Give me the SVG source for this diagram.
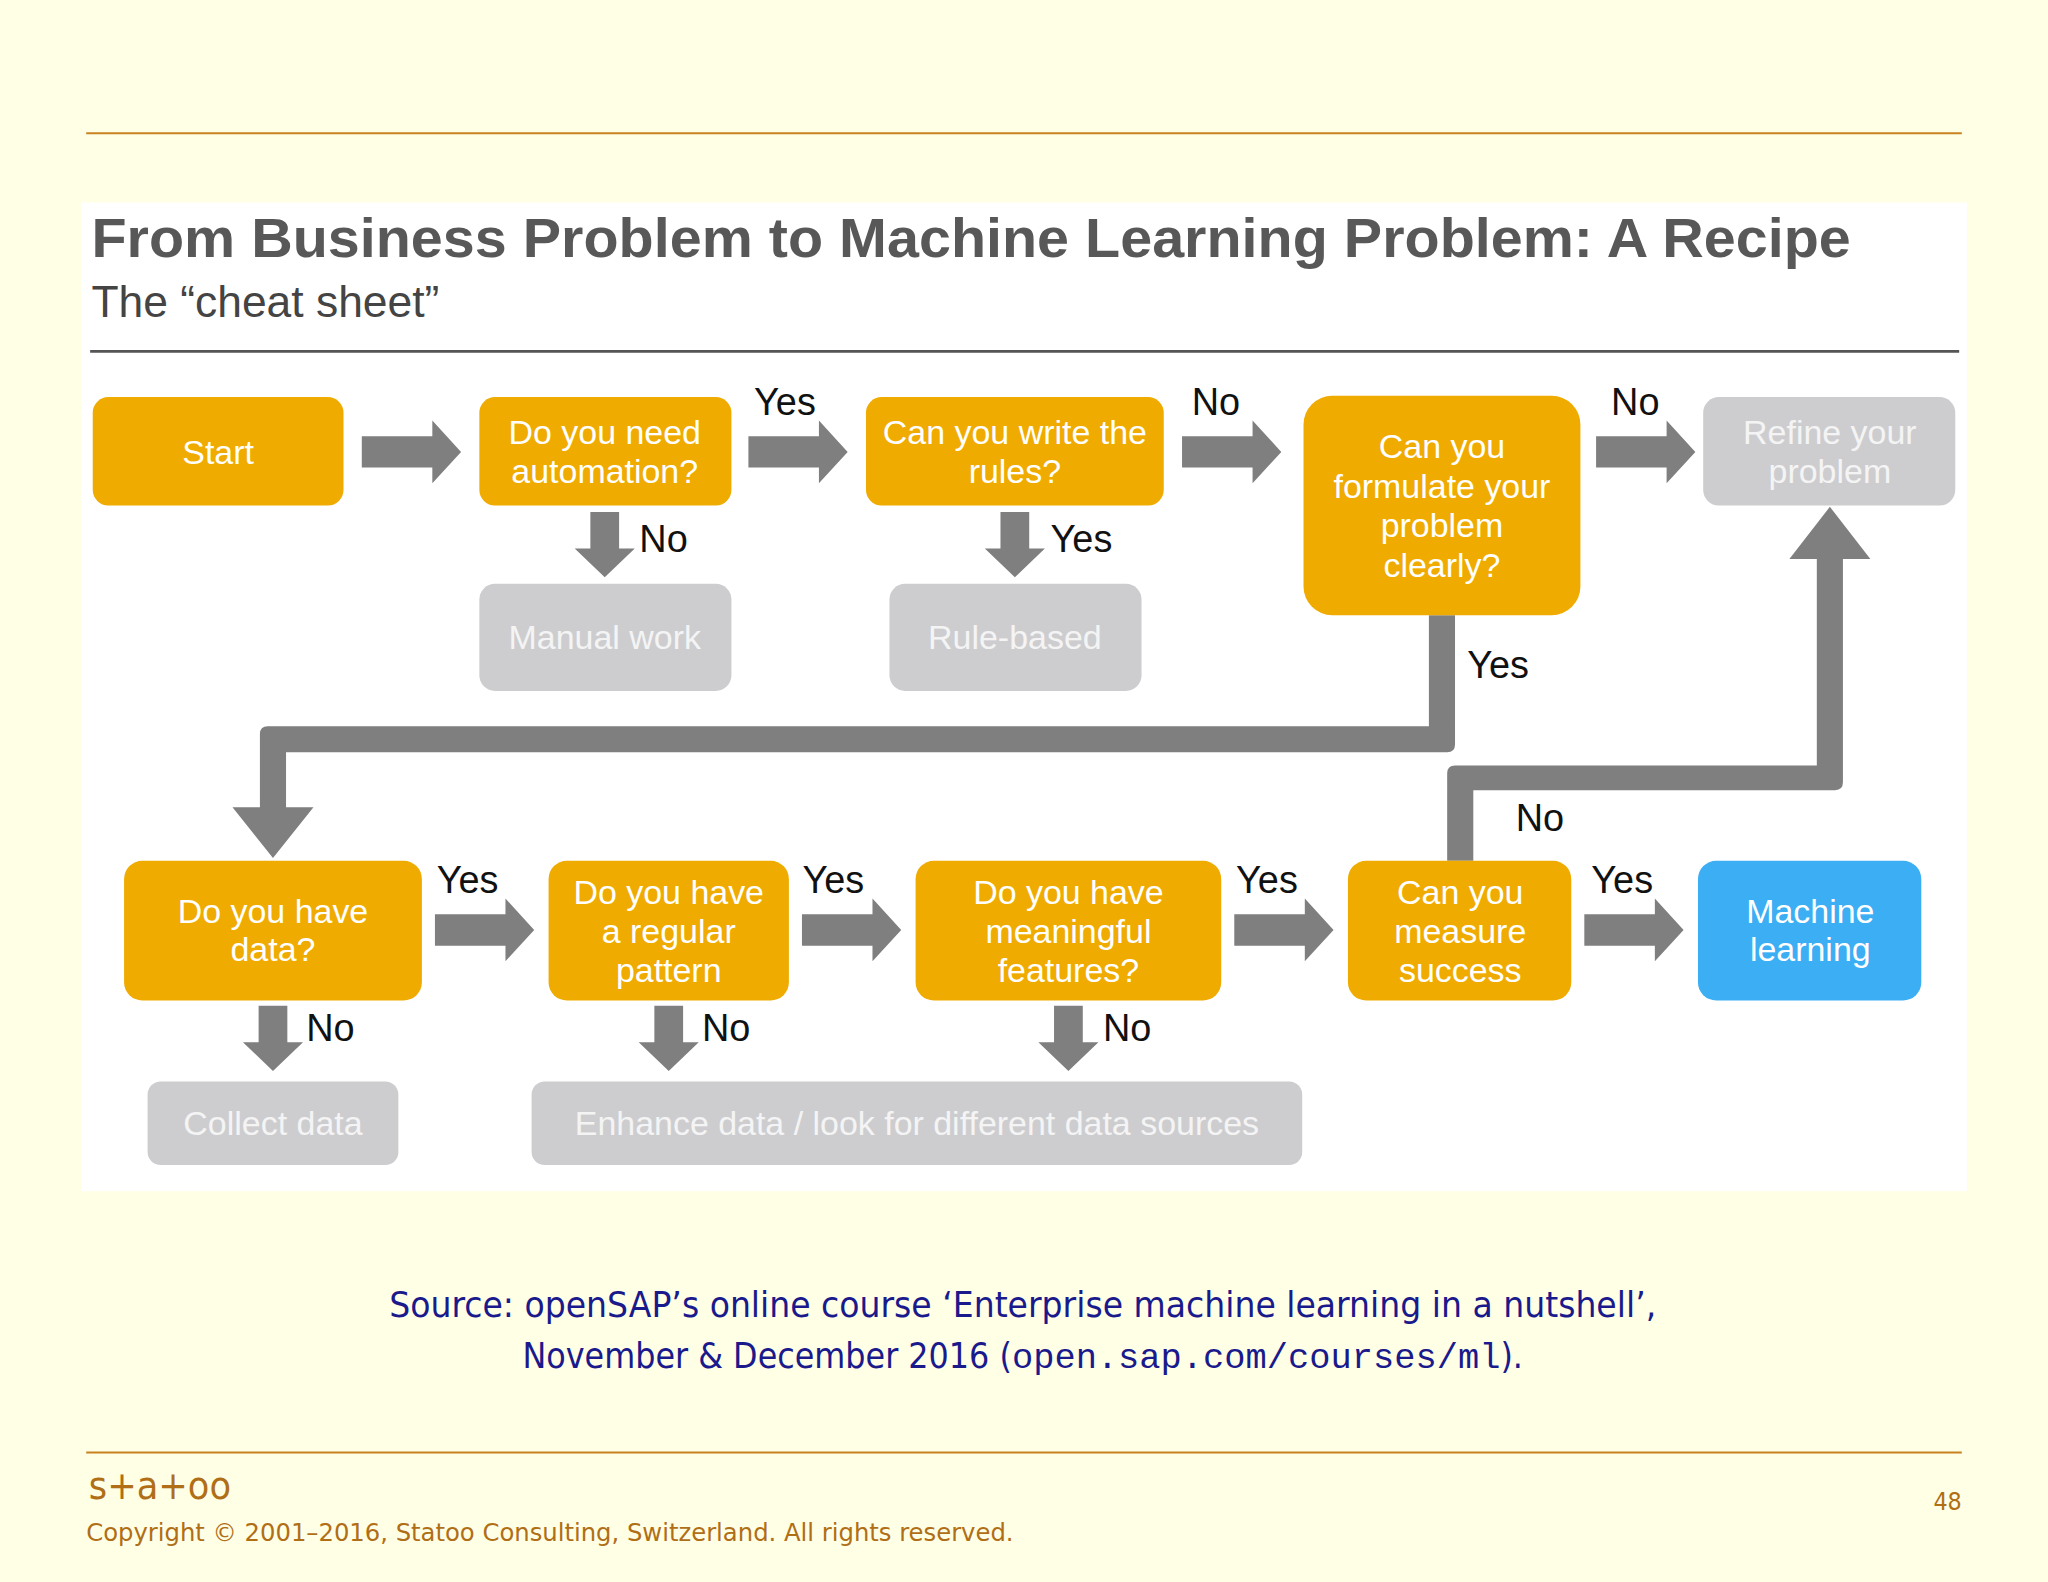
<svg xmlns="http://www.w3.org/2000/svg" width="2048" height="1582" viewBox="0 0 2048 1582">
<style>
.o{fill:#F0AB00}.g{fill:#CDCDD0}.b{fill:#3BAEF4}
.t{font-family:"Liberation Sans",Arial,sans-serif;font-size:26px;fill:#fff;text-anchor:middle}
.tg{font-family:"Liberation Sans",Arial,sans-serif;font-size:26px;fill:#F4F4F4;text-anchor:middle}
.l{font-family:"Liberation Sans",Arial,sans-serif;font-size:29px;fill:#111;text-anchor:middle}
.a{fill:#7F7F7F}
.src{font-family:"DejaVu Sans Condensed","DejaVu Sans",sans-serif;font-size:27px;fill:#1A1A8C;text-anchor:middle}
.ft{font-family:"DejaVu Sans Condensed","DejaVu Sans",sans-serif;fill:#B06E16}
</style>
<defs>
<path id="ha" d="M0,-12 H54 V-24 L76,0 L54,24 V12 H0 Z"/>
<path id="da" d="M-11,0 H11 V28 H23 L0,50 L-23,28 H-11 Z"/>
</defs>
<rect width="2048" height="1582" fill="#FFFFE6"/>
<g transform="scale(1.30612)">
<line x1="66" y1="102" x2="1502" y2="102" stroke="#C8821E" stroke-width="1.5"/>
<rect x="62" y="155" width="1444" height="757" fill="#fff"/>
<text x="70" y="197" font-family="Liberation Sans,Arial,sans-serif" font-weight="bold" font-size="43" fill="#585858" textLength="1347" lengthAdjust="spacingAndGlyphs">From Business Problem to Machine Learning Problem: A Recipe</text>
<text x="70" y="243" font-family="Liberation Sans,Arial,sans-serif" font-size="34" fill="#444">The “cheat sheet”</text>
<line x1="69" y1="269" x2="1500" y2="269" stroke="#555" stroke-width="2"/>
<g id="connectors">
<use href="#ha" x="277" y="346" class="a"/>
<use href="#ha" x="573" y="346" class="a"/>
<use href="#ha" x="905" y="346" class="a"/>
<use href="#ha" x="1222" y="346" class="a"/>
<use href="#ha" x="333" y="712" class="a"/>
<use href="#ha" x="614" y="712" class="a"/>
<use href="#ha" x="945" y="712" class="a"/>
<use href="#ha" x="1213" y="712" class="a"/>
<use href="#da" x="463" y="392" class="a"/>
<use href="#da" x="777" y="392" class="a"/>
<use href="#da" x="209" y="770" class="a"/>
<use href="#da" x="512" y="770" class="a"/>
<use href="#da" x="818" y="770" class="a"/>
<path class="a" d="M1094,471 H1114 V570 Q1114,576 1108,576 H219 V618 H240 L209,657 L178,618 H199 V562 Q199,556 205,556 H1094 Z"/>
<path class="a" d="M1108,659 V592 Q1108,586 1114,586 H1391 V428 H1370 L1401,388 L1432,428 H1411 V599 Q1411,605 1405,605 H1128 V659 Z"/>
<text class="l" x="601" y="318">Yes</text>
<text class="l" x="508" y="423">No</text>
<text class="l" x="931" y="318">No</text>
<text class="l" x="828" y="423">Yes</text>
<text class="l" x="1252" y="318">No</text>
<text class="l" x="1147" y="519">Yes</text>
<text class="l" x="1179" y="636">No</text>
<text class="l" x="358" y="684">Yes</text>
<text class="l" x="638" y="684">Yes</text>
<text class="l" x="970" y="684">Yes</text>
<text class="l" x="1242" y="684">Yes</text>
<text class="l" x="253" y="797">No</text>
<text class="l" x="556" y="797">No</text>
<text class="l" x="863" y="797">No</text>
</g>
<g id="start"><rect class="o" x="71" y="304" width="192" height="83" rx="12"/><text class="t" x="167" y="355">Start</text></g>
<g id="automation"><rect class="o" x="367" y="304" width="193" height="83" rx="12"/><text class="t" x="463" y="340">Do you need</text><text class="t" x="463" y="370">automation?</text></g>
<g id="rules"><rect class="o" x="663" y="304" width="228" height="83" rx="12"/><text class="t" x="777" y="340">Can you write the</text><text class="t" x="777" y="370">rules?</text></g>
<g id="formulate"><rect class="o" x="998" y="303" width="212" height="168" rx="22"/><text class="t" x="1104" y="351">Can you</text><text class="t" x="1104" y="381">formulate your</text><text class="t" x="1104" y="411">problem</text><text class="t" x="1104" y="442">clearly?</text></g>
<g id="refine"><rect class="g" x="1304" y="304" width="193" height="83" rx="12"/><text class="tg" x="1401" y="340">Refine your</text><text class="tg" x="1401" y="370">problem</text></g>
<g id="manual"><rect class="g" x="367" y="447" width="193" height="82" rx="12"/><text class="tg" x="463" y="497">Manual work</text></g>
<g id="rulebased"><rect class="g" x="681" y="447" width="193" height="82" rx="12"/><text class="tg" x="777" y="497">Rule-based</text></g>
<g id="data"><rect class="o" x="95" y="659" width="228" height="107" rx="14"/><text class="t" x="209" y="707">Do you have</text><text class="t" x="209" y="736">data?</text></g>
<g id="pattern"><rect class="o" x="420" y="659" width="184" height="107" rx="14"/><text class="t" x="512" y="692">Do you have</text><text class="t" x="512" y="722">a regular</text><text class="t" x="512" y="752">pattern</text></g>
<g id="features"><rect class="o" x="701" y="659" width="234" height="107" rx="14"/><text class="t" x="818" y="692">Do you have</text><text class="t" x="818" y="722">meaningful</text><text class="t" x="818" y="752">features?</text></g>
<g id="measure"><rect class="o" x="1032" y="659" width="171" height="107" rx="14"/><text class="t" x="1118" y="692">Can you</text><text class="t" x="1118" y="722">measure</text><text class="t" x="1118" y="752">success</text></g>
<g id="ml"><rect class="b" x="1300" y="659" width="171" height="107" rx="14"/><text class="t" x="1386" y="707">Machine</text><text class="t" x="1386" y="736">learning</text></g>
<g id="collect"><rect class="g" x="113" y="828" width="192" height="64" rx="10"/><text class="tg" x="209" y="869">Collect data</text></g>
<g id="enhance"><rect class="g" x="407" y="828" width="590" height="64" rx="10"/><text class="tg" x="702" y="869">Enhance data / look for different data sources</text></g>
<text class="src" x="783" y="1008" textLength="970" lengthAdjust="spacingAndGlyphs">Source: openSAP’s online course ‘Enterprise machine learning in a nutshell’,</text>
<text class="src" x="783" y="1047" textLength="766" lengthAdjust="spacingAndGlyphs">November &amp; December 2016 (<tspan font-family="Liberation Mono,monospace">open.sap.com/courses/ml</tspan>).</text>
<line x1="66" y1="1112" x2="1502" y2="1112" stroke="#C8821E" stroke-width="1.5"/>
<text class="ft" x="68" y="1148" font-size="30">s+a+oo</text>
<text class="ft" x="66" y="1180" font-size="19" textLength="710" lengthAdjust="spacingAndGlyphs">Copyright © 2001–2016, Statoo Consulting, Switzerland. All rights reserved.</text>
<text class="ft" x="1502" y="1156" font-size="19" text-anchor="end">48</text>
</g>
</svg>
